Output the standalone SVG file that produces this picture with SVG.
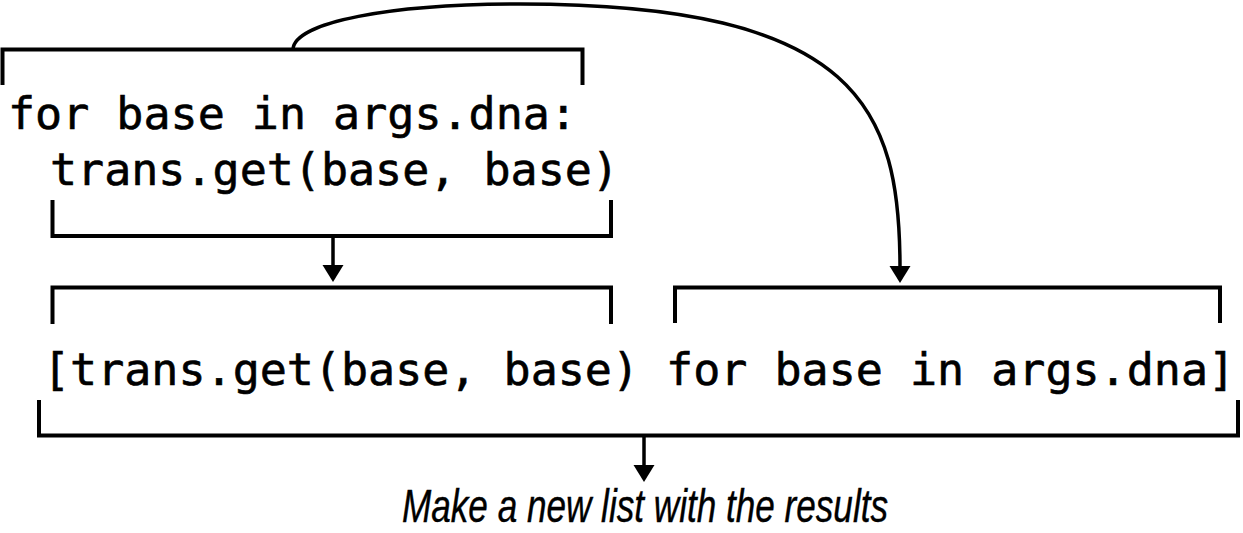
<svg xmlns="http://www.w3.org/2000/svg" width="1243" height="533" viewBox="0 0 1243 533">
  <style>
    .code { font-family: "DejaVu Sans Mono", "Liberation Mono", monospace; font-size: 45px; fill: #000; stroke: #000; stroke-width: 0.6; }
    .label { font-family: "Liberation Sans", Arial, sans-serif; font-style: italic; font-size: 46px; fill: #000; stroke: #000; stroke-width: 0.4; }
    .bracket { fill: none; stroke: #000; stroke-width: 4; stroke-linecap: butt; stroke-linejoin: miter; }
    .conn { fill: none; stroke: #000; stroke-width: 3.5; }
    .head { fill: #000; stroke: none; }
  </style>
  <defs>
    <path id="arrowhead" class="head" d="M-10.5,-17 L10.5,-17 L0,0 Z"/>
  </defs>
  <rect width="1243" height="533" fill="#fff"/>

  <g id="for-clause">
    <path class="bracket" d="M2.5,85 V49.5 H582.5 V85"/>
    <text class="code" x="8" y="129" xml:space="preserve">for base in args.dna:</text>
  </g>

  <g id="expression">
    <text class="code" x="50" y="185" xml:space="preserve">trans.get(base, base)</text>
    <path class="bracket" d="M52.5,200 V236 H611 V200"/>
  </g>

  <g id="comprehension">
    <path class="bracket" d="M52.5,324 V287.5 H611 V324"/>
    <path class="bracket" d="M675,323 V287.5 H1220 V323"/>
    <text class="code" x="43" y="385" xml:space="preserve">[trans.get(base, base) for base in args.dna]</text>
    <path class="bracket" d="M39,400 V435.5 H1238 V400"/>
  </g>

  <g id="result-label">
    <text class="label" x="402" y="522" textLength="486" lengthAdjust="spacingAndGlyphs">Make a new list with the results</text>
  </g>

  <g id="connectors">
    <path class="conn" d="M293,49 C295,22 390,4 520,4 C860,4 900,110 900,268"/>
    <use href="#arrowhead" x="900" y="283"/>
    <path class="conn" d="M333,236 V268"/>
    <use href="#arrowhead" x="333" y="282"/>
    <path class="conn" d="M644,436 V468"/>
    <use href="#arrowhead" x="644" y="482"/>
  </g>
</svg>
